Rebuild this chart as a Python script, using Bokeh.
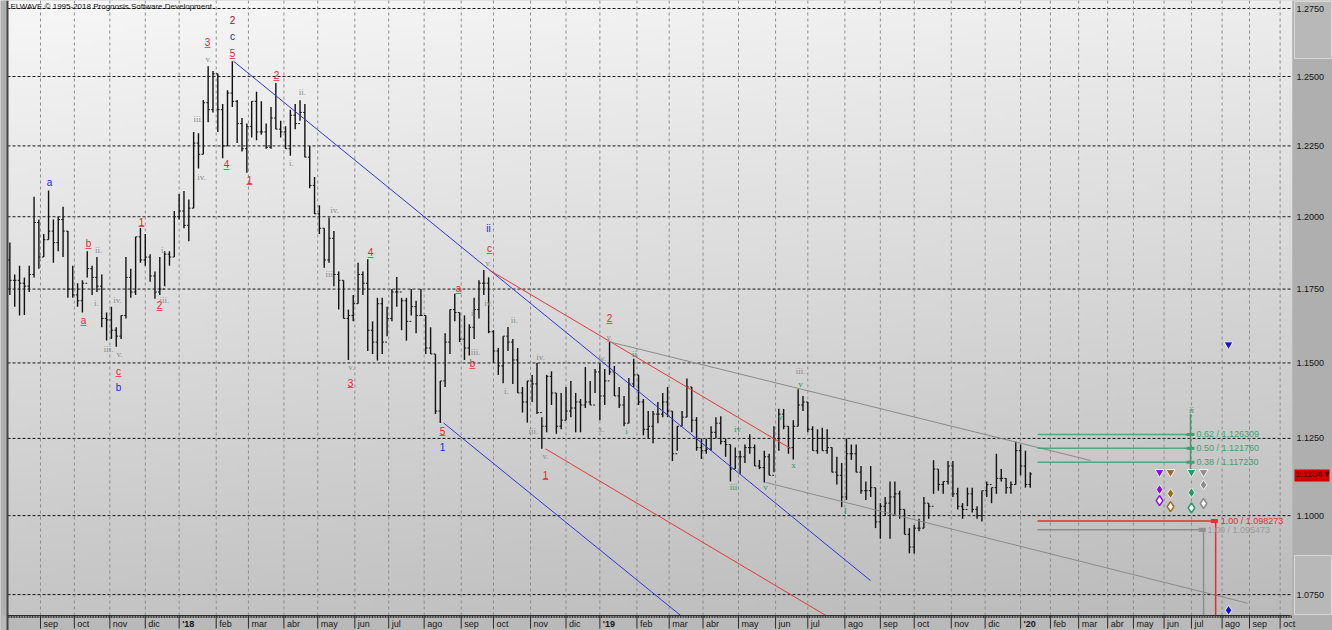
import numpy as np
from bokeh.plotting import figure
from bokeh.models import ColumnDataSource, Range1d
from bokeh.embed import file_html
from bokeh.resources import INLINE
from bokeh.core.properties import value

# ---------------- data (EUR/USD, 3-trading-day bars, prices in pips) ----------------
bar_first_day = -19      # trading-day index (0 = 1 Sep 2017) of the first bar
bar_days = 3
first_open_pips = 11850
high_pips = [11910, 11800, 11830, 11790, 11830, 12070, 11990, 11940, 12092, 11990,
             12000, 12035, 11950, 11830, 11770, 11780, 11880, 11830, 11860, 11800,
             11670, 11690, 11620, 11660, 11860, 11820, 11930, 11961, 11940, 11870,
             11810, 11860, 11880, 11880, 12020, 12080, 12090, 12060, 12300, 12295,
             12415, 12537, 12520, 12510, 12400, 12450, 12556, 12415, 12350, 12330,
             12410, 12445, 12410, 12330, 12390, 12476, 12340, 12320, 12380, 12400,
             12414, 12400, 12250, 12140, 12040, 11960, 11997, 11950, 11810, 11780,
             11680, 11730, 11840, 11810, 11852, 11640, 11720, 11720, 11690, 11750,
             11791, 11720, 11720, 11750, 11710, 11750, 11660, 11620, 11530, 11440,
             11600, 11680, 11734, 11670, 11660, 11630, 11720, 11780, 11815, 11790,
             11610, 11550, 11590, 11621, 11580, 11550, 11420, 11440, 11460, 11500,
             11320, 11460, 11472, 11400, 11400, 11420, 11440, 11400, 11380, 11486,
             11440, 11480, 11500, 11480, 11570, 11490, 11420, 11390, 11450, 11514,
             11460, 11380, 11340, 11340, 11370, 11400, 11420, 11340, 11290, 11340,
             11448, 11420, 11320, 11250, 11250, 11290, 11320, 11323, 11250, 11230,
             11220, 11210, 11230, 11264, 11230, 11180, 11210, 11200, 11290, 11348,
             11347, 11290, 11310, 11412, 11390, 11370, 11290, 11280, 11285, 11280,
             11220, 11190, 11170, 11250, 11230, 11230, 11160, 11110, 11160, 11090,
             11040, 11060, 11110, 11110, 11080, 11020, 10960, 10970, 10990, 11060,
             11040, 11179, 11150, 11110, 11176, 11176, 11090, 11040, 11090, 11090,
             11030, 11080, 11110, 11090, 11200, 11150, 11120, 11110, 11239, 11230,
             11210, 11140]
low_pips = [11730, 11690, 11660, 11662, 11740, 11790, 11820, 11860, 11920, 11840,
            11880, 11860, 11720, 11720, 11690, 11670, 11790, 11730, 11740, 11620,
            11575, 11580, 11554, 11580, 11650, 11720, 11730, 11840, 11830, 11775,
            11717, 11730, 11760, 11830, 11860, 11990, 11960, 11915, 12030, 12170,
            12220, 12335, 12370, 12300, 12206, 12250, 12390, 12260, 12230, 12155,
            12280, 12270, 12290, 12240, 12240, 12310, 12280, 12240, 12215, 12310,
            12340, 12210, 12100, 12010, 11940, 11823, 11840, 11760, 11680, 11650,
            11510, 11640, 11700, 11730, 11540, 11530, 11508, 11530, 11590, 11640,
            11690, 11610, 11575, 11660, 11600, 11660, 11530, 11530, 11330, 11301,
            11420, 11530, 11640, 11570, 11510, 11525, 11580, 11650, 11730, 11600,
            11500, 11460, 11432, 11540, 11430, 11400, 11335, 11302, 11370, 11330,
            11216, 11270, 11360, 11265, 11280, 11310, 11320, 11270, 11270, 11350,
            11360, 11400, 11310, 11360, 11460, 11390, 11350, 11290, 11300, 11420,
            11360, 11260, 11250, 11234, 11300, 11320, 11320, 11176, 11210, 11290,
            11320, 11270, 11210, 11183, 11200, 11210, 11250, 11230, 11190, 11110,
            11150, 11135, 11170, 11200, 11160, 11150, 11107, 11130, 11140, 11210,
            11280, 11200, 11181, 11290, 11340, 11270, 11210, 11200, 11210, 11200,
            11140, 11100, 11027, 11050, 11180, 11140, 11070, 11050, 11060, 10960,
            10926, 11000, 10926, 11000, 10990, 10940, 10880, 10879, 10950, 10960,
            10990, 11070, 11080, 11070, 11100, 11060, 11020, 10990, 11030, 11010,
            10990, 10981, 11060, 11040, 11070, 11110, 11070, 11070, 11100, 11130,
            11090, 11090]
close_pips = [11780, 11780, 11770, 11760, 11800, 11980, 11860, 11920, 11950, 11910,
              11990, 11950, 11750, 11730, 11710, 11770, 11820, 11790, 11760, 11650,
              11645, 11610, 11590, 11660, 11790, 11740, 11930, 11850, 11860, 11795,
              11740, 11750, 11870, 11860, 12000, 12020, 11970, 12030, 12260, 12220,
              12405, 12380, 12510, 12380, 12250, 12440, 12410, 12330, 12240, 12320,
              12410, 12300, 12300, 12245, 12350, 12310, 12300, 12240, 12360, 12330,
              12370, 12210, 12110, 12010, 11960, 11850, 11925, 11800, 11780, 11650,
              11660, 11700, 11800, 11770, 11610, 11570, 11700, 11570, 11650, 11740,
              11740, 11710, 11640, 11690, 11660, 11660, 11550, 11530, 11340, 11440,
              11570, 11680, 11670, 11580, 11550, 11620, 11680, 11770, 11770, 11605,
              11540, 11490, 11590, 11570, 11510, 11400, 11370, 11440, 11430, 11335,
              11290, 11455, 11400, 11290, 11310, 11340, 11350, 11370, 11360, 11370,
              11360, 11470, 11390, 11440, 11470, 11390, 11360, 11300, 11430, 11460,
              11370, 11280, 11290, 11330, 11330, 11370, 11340, 11200, 11290, 11320,
              11420, 11310, 11220, 11210, 11215, 11270, 11300, 11240, 11230, 11150,
              11190, 11190, 11220, 11220, 11160, 11155, 11190, 11130, 11250, 11330,
              11290, 11220, 11290, 11360, 11370, 11280, 11210, 11250, 11210, 11220,
              11140, 11130, 11060, 11200, 11200, 11140, 11080, 11080, 11090, 10980,
              11030, 11040, 11060, 11070, 11020, 10940, 10900, 10960, 10960, 11040,
              11030, 11150, 11100, 11110, 11160, 11070, 11030, 11020, 11070, 11020,
              11000, 11080, 11100, 11090, 11120, 11120, 11090, 11100, 11210, 11160,
              11100, 11134]

month_names = ["sep", "oct", "nov", "dic", "'18", "feb", "mar", "abr", "may", "jun",
               "jul", "ago", "sep", "oct", "nov", "dic", "'19", "feb", "mar", "abr",
               "may", "jun", "jul", "ago", "sep", "oct", "nov", "dic", "'20", "feb",
               "mar", "abr", "may", "jun", "jul", "ago", "sep", "oct"]
month_start = [0, 21, 43, 65, 86, 109, 129, 151, 172, 195, 216, 238, 261, 281, 304,
               326, 347, 370, 390, 411, 433, 456, 476, 499, 521, 542, 565, 586, 608,
               626.5, 644, 662, 678, 697, 714, 733, 750, 769]
price_ticks = [1.075, 1.100, 1.125, 1.150, 1.175, 1.200, 1.225, 1.250, 1.275]
last_close = 1.1134

# trend channels: (start_day, start_price, end_day, end_price)
blue_upper = (119.7, 1.2556, 514.9, 1.0794)
blue_lower = (250.0, 1.1301, 409.4, 1.0635)
red_upper = (278.5, 1.1815, 465.3, 1.1217)
red_lower = (313.3, 1.1216, 493.2, 1.0667)
gray_upper = (353.6, 1.1570, 651.4, 1.1178)
gray_lower = (449.8, 1.1107, 748.8, 1.0723)

# projections
proj_start_day = 618.5
fib_ratio = ["0.62", "0.50", "0.38"]
fib_price = [1.126309, 1.121760, 1.117230]
fib_day = 713.4
fib_top = 1.1330
red_ratio, red_price, red_day = "1.00", 1.098273, 729.0
gray_ratio, gray_price, gray_day = "1.00", 1.095473, 721.5

# future signal markers
tri_day = [694.2, 701.0, 714.0, 721.5]
tri_price = [1.1140, 1.1140, 1.1140, 1.1140]
sig_colors = ["#8a10e0", "#9a6a18", "#1f9a6a", "#8c8c8c"]
dia_price = [1.1084, 1.1071, 1.1074, 1.1099]
hol_price = [1.1048, 1.1029, 1.1025, 1.1039]
blue_sig_day = 737.0
blue_tri_price = 1.1562
blue_dia_price = 1.0701

# wave labels
red_lab = [("b", 29.8, 1.1907), ("a", 26.7, 1.1643), ("c", 48.4, 1.1471), ("1", 62.7, 1.1983),
           ("2", 73.8, 1.1694), ("3", 103.6, 1.2625), ("5", 119.1, 1.2585), ("2", 146.4, 1.2504),
           ("4", 115.4, 1.2184), ("1", 129.7, 1.2130), ("3", 192.3, 1.1434), ("4", 204.7, 1.1876),
           ("5", 249.4, 1.1276), ("a", 259.3, 1.1752), ("b", 268.0, 1.1498), ("c", 278.5, 1.1889),
           ("1", 313.3, 1.1132), ("2", 353.0, 1.1650)]
blue_lab = [("a", 5.6, 1.2120), ("b", 48.4, 1.1418), ("c", 119.1, 1.2647), ("1", 249.4, 1.1221),
            ("ii", 277.9, 1.1959)]
maroon_lab = [("2", 119.1, 1.2709)]
gray_lab = [("ii.", 36.0, 1.1883), ("i.", 34.7, 1.1704), ("iv.", 47.8, 1.1714), ("iii.", 42.2, 1.1548),
            ("v.", 49.0, 1.1531), ("i.", 76.3, 1.1883), ("iii.", 76.9, 1.1714), ("v.", 104.2, 1.2563),
            ("ii.", 162.5, 1.2442), ("iii.", 98.0, 1.2348), ("iv.", 99.9, 1.2141), ("i.", 155.7, 1.2191),
            ("iv.", 182.4, 1.2022), ("iii.", 179.9, 1.1803), ("v.", 192.9, 1.1488), ("i.", 268.6, 1.1667),
            ("iii.", 269.9, 1.1538), ("v.", 277.9, 1.1838), ("iv.", 277.9, 1.1701), ("ii.", 294.0, 1.1643),
            ("i.", 289.0, 1.1405), ("iii.", 305.8, 1.1276), ("iv.", 310.2, 1.1521), ("v.", 313.3, 1.1194),
            ("w.", 348.6, 1.1518), ("x.", 348.0, 1.1282), ("y.", 353.0, 1.1588), ("iii.", 471.5, 1.1474)]
green_lab = [("ii", 368.5, 1.1531), ("i", 363.5, 1.1276), ("iv", 432.4, 1.1282), ("iii", 429.9, 1.1091),
             ("v", 449.8, 1.1091), ("v", 459.0, 1.1322), ("x", 467.1, 1.1162), ("v", 471.5, 1.1431),
             ("I", 499.4, 1.1014), ("ii", 714.0, 1.1342)]

# ---------------- canvas geometry (layout constants) ----------------
W_PX, H_PX = 1332, 630
DAY_PX = 1.612          # pixels per trading day
DAY0_PX = 40.0          # pixel column of day 0
LN_PX = 3435.0          # pixels per unit of ln(price)
REF_PRICE, REF_PX = 1.275, 8.0


def dx(px):
    return (px - DAY0_PX) / DAY_PX


def py(ypx):
    return REF_PRICE * np.exp((REF_PX - ypx) / LN_PX)


XL, XR = dx(0), dx(W_PX)
YT, YB = py(0), py(H_PX)
PL, PR = dx(7), dx(1292)      # plot area left / right
PB = py(615)                   # plot area bottom

p = figure(width=W_PX, height=H_PX, output_backend="svg", toolbar_location=None,
           y_axis_type="log", x_axis_location=None, y_axis_location=None,
           x_range=Range1d(XL, XR), y_range=Range1d(YB, YT),
           min_border=0, min_border_left=0, min_border_right=0, min_border_top=0, min_border_bottom=0)
p.outline_line_color = None
p.background_fill_color = "#b4b4b4"
p.border_fill_color = "#b4b4b4"
p.xgrid.visible = False
p.ygrid.visible = False

# background gradient of the plot area
H, W = 120, 240
yy, xx = np.mgrid[0:H, 0:W]
yf = 1.0 - yy / (H - 1)        # row 0 is bottom
xf = xx / (W - 1)
v = (247 - 50 * yf - 10 * xf).clip(0, 255).astype(np.uint8)
img = np.empty((H, W), dtype=np.uint32)
view = img.view(dtype=np.uint8).reshape((H, W, 4))
view[:, :, 0] = v
view[:, :, 1] = v
view[:, :, 2] = v
view[:, :, 3] = 255
p.image_rgba(image=[img], x=PL, y=PB, dw=PR - PL, dh=YT - PB)

# grid
p.segment(x0=[PL] * len(price_ticks), x1=[PR] * len(price_ticks), y0=price_ticks, y1=price_ticks,
          line_color="#000000", line_dash="3 2", line_width=1, line_alpha=0.9)
p.segment(x0=month_start, x1=month_start, y0=[PB] * len(month_start), y1=[YT] * len(month_start),
          line_color="#8c8c8c", line_dash="3 3", line_width=1)

# ---------------- OHLC bars ----------------
n = len(high_pips)
bx = bar_first_day + bar_days * np.arange(n)
hi = np.array(high_pips) / 1e4
lo = np.array(low_pips) / 1e4
cl = np.array(close_pips) / 1e4
op = np.concatenate([[first_open_pips / 1e4], cl[:-1]])
src = ColumnDataSource(dict(x=bx, hi=hi, lo=lo, op=op, cl=cl, xl=bx - 1.1, xr=bx + 1.1))
p.segment(x0="x", y0="lo", x1="x", y1="hi", source=src, line_color="#111111", line_width=1.4)
p.segment(x0="xl", y0="op", x1="x", y1="op", source=src, line_color="#111111", line_width=1)
p.segment(x0="x", y0="cl", x1="xr", y1="cl", source=src, line_color="#111111", line_width=1)

# ---------------- trend channels ----------------
for ln, col in [(blue_upper, "#3434dc"), (blue_lower, "#3434dc"), (red_upper, "#e03a3a"),
                (red_lower, "#e03a3a"), (gray_upper, "#8a8a8a"), (gray_lower, "#8a8a8a")]:
    p.line([ln[0], ln[2]], [ln[1], ln[3]], line_color=col, line_width=1)

# ---------------- projections ----------------
fib_col = "#3f9f74"
p.segment(x0=[proj_start_day] * 3, x1=[fib_day] * 3, y0=fib_price, y1=fib_price,
          line_color=fib_col, line_width=1.5, line_alpha=0.85)
p.line([fib_day, fib_day], [fib_top, tri_price[2]], line_color=fib_col, line_width=1.5)
p.scatter(x=[fib_day] * 3, y=fib_price, marker="dash", size=8, line_color=fib_col, line_width=3)
p.text(x=[fib_day] * 3, y=fib_price, text=[f"{r} / {lv:.6f}" for r, lv in zip(fib_ratio, fib_price)],
       x_offset=6, text_font=value("Liberation Sans"), text_font_size="9px", text_color=fib_col,
       text_baseline="middle", text_align="left")

p.line([proj_start_day, red_day], [red_price, red_price], line_color="#e03030", line_width=1.5)
p.line([red_day, red_day], [red_price, PB], line_color="#e03030", line_width=1.5)
p.scatter(x=[red_day - 0.8], y=[red_price], marker="dash", size=7, line_color="#e03030", line_width=4)
p.text(x=[red_day], y=[red_price], text=[f"{red_ratio} / {red_price:.6f}"], x_offset=5,
       text_font=value("Liberation Sans"), text_font_size="9px", text_color="#e03030",
       text_baseline="middle", text_align="left")
p.line([proj_start_day, gray_day], [gray_price, gray_price], line_color="#8e8e8e", line_width=1.5)
p.line([gray_day, gray_day], [gray_price, PB], line_color="#8e8e8e", line_width=1.5)
p.scatter(x=[gray_day - 0.8], y=[gray_price], marker="dash", size=7, line_color="#8e8e8e", line_width=4)
p.text(x=[gray_day], y=[gray_price], text=[f"{gray_ratio} / {gray_price:.6f}"], x_offset=4,
       text_font=value("Liberation Sans"), text_font_size="9px", text_color="#9a9a9a",
       text_baseline="middle", text_align="left")

# ---------------- signal markers ----------------
p.scatter(x=tri_day, y=tri_price, marker="inverted_triangle", size=9, fill_color=sig_colors,
          line_color="#f4f4f4", line_width=1)
p.scatter(x=tri_day, y=dia_price, marker="diamond", size=10, fill_color=sig_colors,
          line_color="#f4f4f4", line_width=1)
p.scatter(x=tri_day, y=hol_price, marker="diamond", size=10, fill_color="#ffffff",
          line_color=sig_colors, line_width=1.5)
p.scatter(x=[blue_sig_day], y=[blue_tri_price], marker="inverted_triangle", size=9,
          fill_color="#1414d0", line_color="#f4f4f4")
p.scatter(x=[blue_sig_day], y=[blue_dia_price], marker="diamond", size=10,
          fill_color="#1414d0", line_color="#f4f4f4")


# ---------------- wave labels ----------------
def lab_src(items):
    return ColumnDataSource(dict(t=[a[0] for a in items], x=[a[1] for a in items], y=[a[2] for a in items]))


rs = lab_src(red_lab)
p.text(x="x", y="y", text="t", source=rs, text_color="#e02828", text_font=value("Liberation Sans"),
       text_font_size="10px", text_align="center", text_baseline="middle")
p.text(x="x", y="y", text=value("_"), source=rs, text_color="#e02828", text_font=value("Liberation Sans"),
       text_font_size="10px", text_align="center", text_baseline="middle")
p.text(x="x", y="y", text="t", source=lab_src(blue_lab), text_color="#2424c8",
       text_font=value("Liberation Sans"), text_font_size="10px", text_align="center", text_baseline="middle")
p.text(x="x", y="y", text="t", source=lab_src(maroon_lab), text_color="#9a1a1a",
       text_font=value("Liberation Sans"), text_font_size="10px", text_align="center", text_baseline="middle")
p.text(x="x", y="y", text="t", source=lab_src(gray_lab), text_color="#8c8c8c",
       text_font=value("Liberation Serif"), text_font_size="9px", text_align="center", text_baseline="middle")
p.text(x="x", y="y", text="t", source=lab_src(green_lab), text_color="#2a9a68",
       text_font=value("Liberation Serif"), text_font_size="9px", text_align="center", text_baseline="middle")

p.text(x=[PL], y=[YT], text=["ELWAVE © 1995-2018 Prognosis Software Development"], x_offset=3, y_offset=1,
       text_font=value("Liberation Sans"), text_font_size="8px", text_color="#111111",
       text_baseline="top", text_align="left")

# ---------------- panels (left strip, right price scale, bottom time scale) ----------------
p.quad(left=[XL], right=[PL], bottom=[YB], top=[YT], fill_color="#b0b0b0", line_color=None)
p.quad(left=[PR], right=[XR], bottom=[YB], top=[YT], fill_color="#afafaf", line_color=None)
p.quad(left=[XL], right=[PR], bottom=[YB], top=[PB], fill_color="#b9b9b9", line_color=None)
p.segment(x0=[PL], x1=[PL], y0=[YB], y1=[YT], line_color="#454545", line_width=2)

# scroll boxes on the price scale
p.quad(left=[dx(1294)], right=[dx(1331)], top=[py(1)], bottom=[py(58)],
       fill_color="#b8b8b8", line_color="#d8d8d8", line_width=1)
p.quad(left=[dx(1294)], right=[dx(1331)], top=[py(555)], bottom=[py(614)],
       fill_color="#b8b8b8", line_color="#d8d8d8", line_width=1)

# price scale labels
p.text(x=[dx(1296)] * len(price_ticks), y=price_ticks, text=[f"{t:.4f}" for t in price_ticks],
       text_font=value("Liberation Sans"), text_font_size="9px", text_color="#151515",
       text_baseline="middle", text_align="left")

# last price tag
p.quad(left=[dx(1294)], right=[dx(1329)], top=[py(469)], bottom=[py(481)],
       fill_color="#d00000", line_color=None)
p.text(x=[dx(1295)], y=[last_close], text=[f"{last_close:.4f}▼"],
       text_font=value("Liberation Sans"), text_font_size="9px", text_color="#5c0000",
       text_baseline="middle", text_align="left")

# time scale: ruler line, daily minor ticks, monthly ticks and labels
trading_days = np.arange(-20, 777)
p.segment(x0=[PL], x1=[dx(1290)], y0=[PB], y1=[PB], line_color="#2a2a2a", line_width=1)
p.segment(x0=trading_days, x1=trading_days, y0=[PB] * len(trading_days), y1=[py(617.5)] * len(trading_days),
          line_color="#3a3a3a", line_width=1)
p.segment(x0=month_start, x1=month_start, y0=[PB] * len(month_start), y1=[py(628)] * len(month_start),
          line_color="#2a2a2a", line_width=1)
norm = [(m, s) for m, s in zip(month_names, month_start) if not m.startswith("'")]
year = [(m, s) for m, s in zip(month_names, month_start) if m.startswith("'")]
p.text(x=[s for _, s in norm], y=[py(623)] * len(norm), text=[m for m, _ in norm], x_offset=3,
       text_font=value("Liberation Sans"), text_font_size="9px", text_color="#151515",
       text_baseline="middle", text_align="left")
p.text(x=[s for _, s in year], y=[py(623)] * len(year), text=[m for m, _ in year], x_offset=3,
       text_font=value("Liberation Sans"), text_font_size="9px", text_font_style="bold",
       text_color="#151515", text_baseline="middle", text_align="left")

open("out.html", "w").write(file_html(p, INLINE))
